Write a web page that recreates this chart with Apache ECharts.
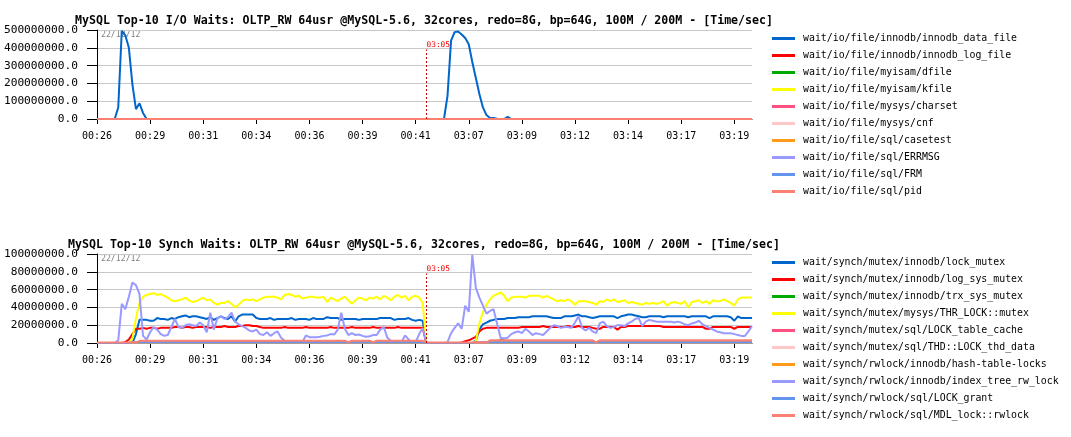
<!DOCTYPE html>
<html><head><meta charset="utf-8">
<script src="https://cdn.jsdelivr.net/npm/echarts@6/dist/echarts.min.js"></script>
<style>html,body{margin:0;padding:0;background:#fff}#c{width:1071px;height:437px}</style>
</head><body><div id="c"></div>
<script>
// ---------- axis / labels ----------
const runStarts = ['00:26:30', '03:05:00'];
const runLengths = [93, 93];
const stepSeconds = 10;
const markerTime = '03:05:00';
const markerLabel = '03:05';
const dateLabel = '22/12/12';
const ioTitle = 'MySQL Top-10 I/O Waits: OLTP_RW 64usr @MySQL-5.6, 32cores, redo=8G, bp=64G, 100M / 200M - [Time/sec]';
const syncTitle = 'MySQL Top-10 Synch Waits: OLTP_RW 64usr @MySQL-5.6, 32cores, redo=8G, bp=64G, 100M / 200M - [Time/sec]';
const ioMax = 500000000, ioStep = 100000000;
const syncMax = 100000000, syncStep = 20000000;
const unit = 1000000; // series values below are in millions

const ioNames = ['wait/io/file/innodb/innodb_data_file','wait/io/file/innodb/innodb_log_file','wait/io/file/myisam/dfile','wait/io/file/myisam/kfile','wait/io/file/mysys/charset','wait/io/file/mysys/cnf','wait/io/file/sql/casetest','wait/io/file/sql/ERRMSG','wait/io/file/sql/FRM','wait/io/file/sql/pid'];
const syncNames = ['wait/synch/mutex/innodb/lock_mutex','wait/synch/mutex/innodb/log_sys_mutex','wait/synch/mutex/innodb/trx_sys_mutex','wait/synch/mutex/mysys/THR_LOCK::mutex','wait/synch/mutex/sql/LOCK_table_cache','wait/synch/mutex/sql/THD::LOCK_thd_data','wait/synch/rwlock/innodb/hash-table-locks','wait/synch/rwlock/innodb/index_tree_rw_lock','wait/synch/rwlock/sql/LOCK_grant','wait/synch/rwlock/sql/MDL_lock::rwlock'];
const palette = ['#0066cc','#ff0000','#00aa00','#ffff00','#ff4f7f','#ffc8c8','#ff9a1a','#9999ff','#6495ed','#fa8072'];

// ---------- I/O waits (millions) ----------
const ioDataFile = [
0,0,0,0,0,0,65,495,470,400,
195,55,88,34,0,0,0,0,0,0,
0,0,0,0,0,0,0,0,0,0,
0,0,0,0,0,0,0,0,0,0,
0,0,0,0,0,0,0,0,0,0,
0,0,0,0,0,0,0,0,0,0,
0,0,0,0,0,0,0,0,0,0,
0,0,0,0,0,0,0,0,0,0,
0,0,0,0,0,0,0,0,0,0,
0,0,0,0,0,0,0,0,0,130,
440,488,492,475,455,420,320,230,140,65,
22,6,5,2,0,0,12,0,0,0,
0,0,0,0,0,0,0,0,0,0,
0,0,0,0,0,0,0,0,0,0,
0,0,0,0,0,0,0,0,0,0,
0,0,0,0,0,0,0,0,0,0,
0,0,0,0,0,0,0,0,0,0,
0,0,0,0,0,0,0,0,0,0,
0,0,0,0,0,0];
// all other I/O series stay flat at zero
const ioFlatZero = [
0,0,0,0,0,0,0,0,0,0,
0,0,0,0,0,0,0,0,0,0,
0,0,0,0,0,0,0,0,0,0,
0,0,0,0,0,0,0,0,0,0,
0,0,0,0,0,0,0,0,0,0,
0,0,0,0,0,0,0,0,0,0,
0,0,0,0,0,0,0,0,0,0,
0,0,0,0,0,0,0,0,0,0,
0,0,0,0,0,0,0,0,0,0,
0,0,0,0,0,0,0,0,0,0,
0,0,0,0,0,0,0,0,0,0,
0,0,0,0,0,0,0,0,0,0,
0,0,0,0,0,0,0,0,0,0,
0,0,0,0,0,0,0,0,0,0,
0,0,0,0,0,0,0,0,0,0,
0,0,0,0,0,0,0,0,0,0,
0,0,0,0,0,0,0,0,0,0,
0,0,0,0,0,0,0,0,0,0,
0,0,0,0,0,0];

// ---------- Synch waits (millions) ----------
const syncLockMutex = [
0,0,0,0,0,0,0,0,0,0,
0,10,26,26,26,25,25,28,27,27,
26,28,27,29,30,31,29,30,30,29,
28,27,29,26,28,30,28,27,30,24,
30,32,32,32,32,28,27,27,27,28,
26,27,27,27,27,28,26,27,27,27,
26,28,27,27,27,29,28,28,28,26,
27,27,27,27,26,27,27,27,27,27,
28,28,28,28,26,27,27,27,28,26,
25,26,25,0,0,0,0,0,0,0,
0,0,0,0,0,0,0,3,15,21,
23,25,26,27,27,27,28,28,28,29,
29,29,29,30,30,30,30,30,29,28,
28,28,30,30,30,31,32,30,30,29,
28,29,30,30,30,30,30,28,30,31,
32,32,31,30,29,29,30,30,30,30,
29,30,30,30,30,30,30,29,30,30,
30,30,30,28,30,30,30,30,30,29,
25,30,28,28,28,28];
const syncLogSys = [
0,0,0,0,0,0,0,0,1,4,
10,16,16,17,16,17,17,16,17,17,
17,17,18,18,17,18,18,17,18,18,
18,18,17,18,18,18,19,18,18,18,
19,19,20,20,19,19,18,17,17,17,
17,17,17,18,17,17,17,17,17,18,
17,17,17,17,17,17,18,17,17,17,
17,17,18,17,17,17,17,17,18,17,
17,17,17,17,17,18,17,17,17,17,
17,17,17,0,0,0,0,0,0,0,
0,0,0,0.5,2,3,5,7,13,16,
17,17,17,17,17,17,17,17,17,17,
18,18,18,18,18,18,19,18,18,18,
18,18,18,19,18,18,19,18,18,18,
17,16,16,18,18,18,18,15,18,18,
19,19,19,19,19,19,19,19,19,19,
18,18,18,18,18,18,18,18,18,18,
18,18,16,16,18,18,18,18,18,18,
16,18,18,18,18,18];
const syncTrxSys = [
0,0,0,0,0,0,0,0,0,0,
0.5,0.5,0.5,0.5,0.5,0.5,0.5,0.5,0.5,0.5,
0.5,0.5,0.5,0.5,0.5,0.5,0.5,0.5,0.5,0.5,
0.5,0.5,0.5,0.5,0.5,0.5,0.5,0.5,0.5,0.5,
0.5,0.5,0.5,0.5,0.5,0.5,0.5,0.5,0.5,0.5,
0.5,0.5,0.5,0.5,0.5,0.5,0.5,0.5,0.5,0.5,
0.5,0.5,0.5,0.5,0.5,0.5,0.5,0.5,0.5,0.5,
0.5,0.5,0.5,0.5,0.5,0.5,0.5,0.5,0.5,0.5,
0.5,0.5,0.5,0.5,0.5,0.5,0.5,0.5,0.5,0.5,
0.5,0.5,0.5,0,0,0,0,0,0,0,
0,0,0,0,0,0,0,0.5,0.5,0.5,
0.5,0.5,0.5,0.5,4,3,0.5,0.5,0.5,0.5,
0.5,0.5,0.5,0.5,0.5,0.5,0.5,0.5,0.5,0.5,
0.5,0.5,0.5,0.5,0.5,0.5,0.5,0.5,0.5,0.5,
0.5,0.5,0.5,0.5,0.5,0.5,0.5,0.5,0.5,0.5,
0.5,0.5,0.5,0.5,0.5,0.5,0.5,0.5,0.5,0.5,
0.5,0.5,0.5,0.5,0.5,0.5,0.5,0.5,0.5,0.5,
0.5,0.5,0.5,0.5,0.5,0.5,0.5,0.5,0.5,0.5,
0.5,0.5,0.5,0.5,0.5,0.5];
const syncThrLock = [
0,0,0,0,0,0,0,0,0,0,
5,28,45,52,54,55,56,54,55,53,
51,48,47,48,49,51,48,46,47,49,
51,48,49,45,43,45,45,47,44,40,
43,47,49,48,49,47,49,51,52,52,
52,51,49,54,55,54,52,53,50,51,
52,52,51,51,52,46,51,49,47,50,
52,48,44,48,51,50,48,51,50,52,
49,53,51,48,52,54,51,53,48,52,
53,51,45,0,0,0,0,0,0,0,
0,0,0,0,0,0,0,2,22,35,
43,49,53,55,57,53,47,51,52,52,
52,51,53,53,53,53,51,53,51,49,
47,48,47,49,47,43,47,47,47,46,
45,43,47,46,49,47,49,46,47,48,
45,46,45,44,43,45,44,45,44,45,
47,42,45,46,45,44,47,40,46,47,
48,45,47,44,48,47,47,49,47,45,
42,49,51,51,51,51];
const syncTableCache = [
0,0,0,0,0,0,0,0,0,0,
0.8,0.8,0.8,0.8,0.8,0.8,0.8,0.8,0.8,0.8,
0.8,0.8,0.8,0.8,0.8,0.8,0.8,0.8,0.8,0.8,
0.8,0.8,0.8,0.8,0.8,0.8,0.8,0.8,0.8,0.8,
0.8,0.8,0.8,0.8,0.8,0.8,0.8,0.8,0.8,0.8,
0.8,0.8,0.8,0.8,0.8,0.8,0.8,0.8,0.8,0.8,
0.8,0.8,0.8,0.8,0.8,0.8,0.8,0.8,0.8,0.8,
0.8,0.8,0.8,0.8,0.8,0.8,0.8,0.8,0.8,0.8,
0.8,0.8,0.8,0.8,0.8,0.8,0.8,0.8,0.8,0.8,
0.8,0.8,0.8,0,0,0,0,0,0,0,
0,0,0,0,0,0,0,0.8,0.8,0.8,
0.8,0.8,0.8,0.8,0.8,0.8,0.8,0.8,0.8,0.8,
0.8,0.8,0.8,0.8,0.8,0.8,0.8,0.8,0.8,0.8,
0.8,0.8,0.8,0.8,0.8,0.8,0.8,0.8,0.8,0.8,
0.8,0.8,0.8,0.8,0.8,0.8,0.8,0.8,0.8,0.8,
0.8,0.8,0.8,0.8,0.8,0.8,0.8,0.8,0.8,0.8,
0.8,0.8,0.8,0.8,0.8,0.8,0.8,0.8,0.8,0.8,
0.8,0.8,0.8,0.8,0.8,0.8,0.8,0.8,0.8,0.8,
0.8,0.8,0.8,0.8,0.8,0.8];
const syncThdData = [
0,0,0,0,0,0,0,0,0,0,
0.4,0.4,0.4,0.4,0.4,0.4,0.4,0.4,0.4,0.4,
0.4,0.4,0.4,0.4,0.4,0.4,0.4,0.4,0.4,0.4,
0.4,0.4,0.4,0.4,0.4,0.4,0.4,0.4,0.4,0.4,
0.4,0.4,0.4,0.4,0.4,0.4,0.4,0.4,0.4,0.4,
0.4,0.4,0.4,0.4,0.4,0.4,0.4,0.4,0.4,0.4,
0.4,0.4,0.4,0.4,0.4,0.4,0.4,0.4,0.4,0.4,
0.4,0.4,0.4,0.4,0.4,0.4,0.4,0.4,0.4,0.4,
0.4,0.4,0.4,0.4,0.4,0.4,0.4,0.4,0.4,0.4,
0.4,0.4,0.4,0,0,0,0,0,0,0,
0,0,0,0,0,0,0,0.4,0.4,0.4,
0.4,0.4,0.4,0.4,0.4,0.4,0.4,0.4,0.4,0.4,
0.4,0.4,0.4,0.4,0.4,0.4,0.4,0.4,0.4,0.4,
0.4,0.4,0.4,0.4,0.4,0.4,0.4,0.4,0.4,0.4,
0.4,0.4,0.4,0.4,0.4,0.4,0.4,0.4,0.4,0.4,
0.4,0.4,0.4,0.4,0.4,0.4,0.4,0.4,0.4,0.4,
0.4,0.4,0.4,0.4,0.4,0.4,0.4,0.4,0.4,0.4,
0.4,0.4,0.4,0.4,0.4,0.4,0.4,0.4,0.4,0.4,
0.4,0.4,0.4,0.4,0.4,0.4];
const syncHashLocks = [
0,0,0,0,0,0,0,0,0,0,
0.2,0.2,0.2,0.2,0.2,0.2,0.2,0.2,0.2,0.2,
0.2,0.2,0.2,0.2,0.2,0.2,0.2,0.2,0.2,0.2,
0.2,0.2,0.2,0.2,0.2,0.2,0.2,0.2,0.2,0.2,
0.2,0.2,0.2,0.2,0.2,0.2,0.2,0.2,0.2,0.2,
0.2,0.2,0.2,0.2,0.2,0.2,0.2,0.2,0.2,0.2,
0.2,0.2,0.2,0.2,0.2,0.2,0.2,0.2,0.2,0.2,
0.2,0.2,0.2,0.2,0.2,0.2,0.2,0.2,0.2,0.2,
0.2,0.2,0.2,0.2,0.2,0.2,0.2,0.2,0.2,0.2,
0.2,0.2,0.2,0,0,0,0,0,0,0,
0,0,0,0,0,0,0,0.2,0.2,0.2,
0.2,0.2,0.2,0.2,0.2,0.2,0.2,0.2,0.2,0.2,
0.2,0.2,0.2,0.2,0.2,0.2,0.2,0.2,0.2,0.2,
0.2,0.2,0.2,0.2,0.2,0.2,0.2,0.2,0.2,0.2,
0.2,0.2,0.2,0.2,0.2,0.2,0.2,0.2,0.2,0.2,
0.2,0.2,0.2,0.2,0.2,0.2,0.2,0.2,0.2,0.2,
0.2,0.2,0.2,0.2,0.2,0.2,0.2,0.2,0.2,0.2,
0.2,0.2,0.2,0.2,0.2,0.2,0.2,0.2,0.2,0.2,
0.2,0.2,0.2,0.2,0.2,0.2];
const syncIndexTree = [
0,0,0,0,0,0,3,44,38,52,
68,65,55,8,4,12,18,15,10,8,
9,18,27,18,17,20,21,20,19,23,
20,12,34,15,28,30,27,29,34,24,
21,19,17,14,13,15,10,9,12,8,
11,13,6,2.5,1.5,1.5,1,1,1,8.5,
6.5,6.5,6.5,7,8,8.5,10,9.5,15,34,
16,9,11,9,9.5,8,7,7.5,9,9,
15,18,6,2.5,1,1,1,8.5,4,1,
1,10,17,0,0,0,0,0,0,1,
11,17,22,16,42,35,99,62,51,42,
33,36,38,22,6,5,6,10,12,13,
11,16,13,9,11,10,9,13,17,20,
19,17,18,18,17,23,30,17,14,17,
13,11,22,24,19,17,18,20,20,19,
22,24,27,28,19,24,26,25,24,24,
24,24,24,23,24,23,21,20,22,23,
25,21,19,17,15,13,12,11,11,11,
10,9,8,8,13,19];
const syncLockGrant = [
0,0,0,0,0,0,0,0,0,0,
0.6,0.6,0.6,0.6,0.6,0.6,0.6,0.6,0.6,0.6,
0.6,0.6,0.6,0.6,0.6,0.6,0.6,0.6,0.6,0.6,
0.6,0.6,0.6,0.6,0.6,0.6,0.6,0.6,0.6,0.6,
0.6,0.6,0.6,0.6,0.6,0.6,0.6,0.6,0.6,0.6,
0.6,0.6,0.6,0.6,0.6,0.6,0.6,0.6,0.6,0.6,
0.6,0.6,0.6,0.6,0.6,0.6,0.6,0.6,0.6,0.6,
0.6,0.6,0.6,0.6,0.6,0.6,0.6,0.6,0.6,0.6,
0.6,0.6,0.6,0.6,0.6,0.6,0.6,0.6,0.6,0.6,
0.6,0.6,0.6,0,0,0,0,0,0,0,
0,0,0,0,0,0,0,0.6,0.6,0.6,
0.6,0.6,0.6,0.6,0.6,0.6,0.6,0.6,0.6,0.6,
0.6,0.6,0.6,0.6,0.6,0.6,0.6,0.6,0.6,0.6,
0.6,0.6,0.6,0.6,0.6,0.6,0.6,0.6,0.6,0.6,
0.6,0.6,0.6,0.6,0.6,0.6,0.6,0.6,0.6,0.6,
0.6,0.6,0.6,0.6,0.6,0.6,0.6,0.6,0.6,0.6,
0.6,0.6,0.6,0.6,0.6,0.6,0.6,0.6,0.6,0.6,
0.6,0.6,0.6,0.6,0.6,0.6,0.6,0.6,0.6,0.6,
0.6,0.6,0.6,0.6,0.6,0.6];
const syncMdlLock = [
0.5,0.5,0.5,0.5,0.5,0.5,0.5,0.5,0.5,0.5,
0.5,0.5,2.5,2.5,2.5,2.5,2.5,2.5,2.5,2.5,
2.5,2.5,2.5,2.5,2.5,2.5,2.5,2.5,2.5,2.5,
2.5,2.5,2.5,2.5,2.5,2.5,2.5,2.5,2.5,2.5,
2.5,2.5,2.5,2.5,2.5,2.5,2.5,2.5,2.5,2.5,
2.5,2.5,2.5,2.5,2.5,2.5,2.5,2.5,2.5,2.5,
2.5,2.5,2.5,2.5,2.5,2.5,2.5,2.5,2.5,2.5,
2.5,1,2.5,2.5,2.5,2.5,2.5,2.5,1,2.5,
2.5,2.5,2.5,2.5,2.5,2.5,2.5,2.5,2.5,2.5,
2.5,2.5,2.5,0.5,0.5,0.5,0.5,0.5,0.5,0.5,
0.5,0.5,0.5,0.5,0.5,0.5,0.5,0.5,0.5,0.5,
0.5,3,3,3,3,3,3,3,3,3,
3,3,3,3,3,3,3,3,3,3,
3,3,3,3,3,3,3,3,3,3,
3,1,3,3,3,3,3,3,3,3,
3,3,3,3,3,3,3,3,3,3,
3,3,3,3,3,3,3,3,3,3,
3,3,3,3,3,3,3,3,3,3,
3,3,3,3,3,3];

// ---------- build ----------
const MONO = '"DejaVu Sans Mono", monospace';
function toSec(s){const p=s.split(':').map(Number);return p[0]*3600+p[1]*60+p[2];}
function fmt(t){return [Math.floor(t/3600)%24,Math.floor(t/60)%60,t%60].map(v=>String(v).padStart(2,'0')).join(':');}
const categories = [];
runStarts.forEach((st,i)=>{const b=toSec(st);for(let k=0;k<runLengths[i];k++)categories.push(fmt(b+k*stepSeconds));});
const markerIdx = categories.indexOf(markerTime);

const ioData = [ioDataFile, ioFlatZero, ioFlatZero, ioFlatZero, ioFlatZero, ioFlatZero, ioFlatZero, ioFlatZero, ioFlatZero, ioFlatZero];
const syncData = [syncLockMutex, syncLogSys, syncTrxSys, syncThrLock, syncTableCache, syncThdData, syncHashLocks, syncIndexTree, syncLockGrant, syncMdlLock];
[...ioData, ...syncData].forEach((a,i)=>{ if(a.length!==categories.length) console.error('length mismatch', i, a.length); });

function markLineFor(topVal){
  return {silent:true,symbol:['none','none'],animation:false,
    lineStyle:{color:'#cc0000',width:1,type:[2,2]},
    label:{show:true,position:'end',formatter:markerLabel,color:'#ee0000',fontFamily:MONO,fontSize:7.8,distance:1,offset:[12,0]},
    data:[[{coord:[markerIdx,0]},{coord:[markerIdx,topVal]}]]};
}
function mk(name,color,data,gi,extra){
  return Object.assign({name,type:'line',xAxisIndex:gi,yAxisIndex:gi,data:data.map(v=>v*unit),color,
    showSymbol:false,symbol:'none',lineStyle:{width:2,color},clip:false,animation:false},extra||{});
}
const series = [];
ioNames.forEach((n,i)=>series.push(mk(n,palette[i],ioData[i],0, i===0?{markLine:markLineFor(390*unit)}:null)));
syncNames.forEach((n,i)=>series.push(mk(n,palette[i],syncData[i],1, i===0?{markLine:markLineFor(78*unit)}:null)));

function xAx(gi){return {type:'category',gridIndex:gi,data:categories,boundaryGap:false,
  axisLine:{show:true,lineStyle:{color:'#000',width:1}},
  axisTick:{show:true,interval:14,length:5,lineStyle:{color:'#000'}},
  axisLabel:{interval:14,color:'#000',fontFamily:MONO,fontSize:10,margin:12,formatter:v=>v.slice(0,5)},
  splitLine:{show:false}};}
function yAx(gi,max,step){return {type:'value',gridIndex:gi,min:0,max:max,interval:step,
  axisLine:{show:true,lineStyle:{color:'#000',width:1}},
  axisTick:{show:true,length:10,lineStyle:{color:'#000'}},
  axisLabel:{color:'#000',fontFamily:MONO,fontSize:11.2,margin:19,formatter:v=>v.toFixed(1)},
  splitLine:{show:true,lineStyle:{color:'#c8c8c8',width:1}}};}
function legend(names,top){return {data:names,orient:'vertical',left:772,top:top,padding:0,itemGap:0,
  itemWidth:23,itemHeight:3,icon:'rect',selectedMode:false,
  textStyle:{color:'#000',fontFamily:MONO,fontSize:9.9,lineHeight:17,padding:[0,0,0,3]}};}
const titleStyle = {color:'#000',fontFamily:MONO,fontSize:11.6,fontWeight:'bold'};

const chart = echarts.init(document.getElementById('c'), null, {renderer:'canvas'});
chart.setOption({
  animation:false,
  backgroundColor:'#fff',
  title:[{text:ioTitle,left:75,top:15,padding:0,textStyle:titleStyle},
         {text:syncTitle,left:68,top:239,padding:0,textStyle:titleStyle}],
  grid:[{left:97,top:30,width:655,height:89},{left:97,top:254,width:655,height:89}],
  xAxis:[xAx(0),xAx(1)],
  yAxis:[yAx(0,ioMax,ioStep),yAx(1,syncMax,syncStep)],
  legend:[legend(ioNames,30),legend(syncNames,254)],
  graphic:[
    {type:'text',left:101,top:31,z:0,style:{text:dateLabel,fill:'#808080',font:'8.2px '+MONO}},
    {type:'text',left:101,top:255,z:0,style:{text:dateLabel,fill:'#808080',font:'8.2px '+MONO}}
  ],
  series:series
});
</script></body></html>
